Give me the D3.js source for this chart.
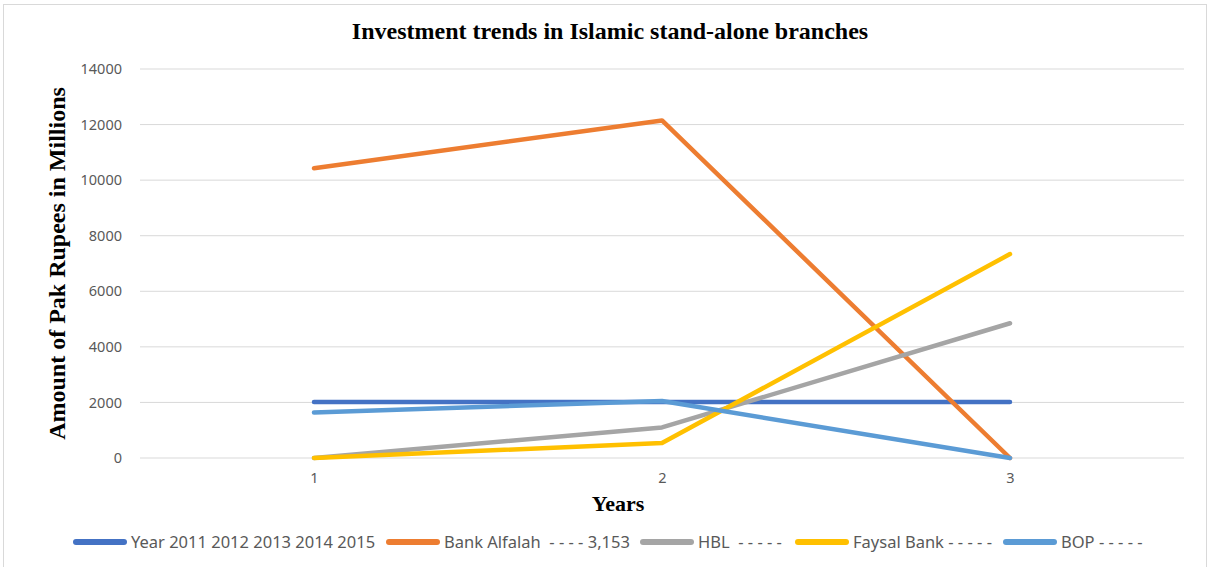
<!DOCTYPE html>
<html>
<head>
<meta charset="utf-8">
<script src="https://cdn.jsdelivr.net/npm/d3@7"></script>
<style>
  body { margin: 0; background: #fff; }
  svg { display: block; }
</style>
</head>
<body>
<svg id="chart"></svg>
<script>
// data
const categories = [1, 2, 3];
const seriesNames = ["Year 2011 2012 2013 2014 2015", "Bank Alfalah  - - - - 3,153", "HBL  - - - - -", "Faysal Bank - - - - -", "BOP - - - - -"];
const yearValues = [2011, 2012, 2013];
const alfalahValues = [10430, 12150, 0];
const hblValues = [0, 1100, 4850];
const faysalValues = [0, 540, 7340];
const bopValues = [1640, 2050, 0];
const yTicks = [0, 2000, 4000, 6000, 8000, 10000, 12000, 14000];
const colors = ["#4472C4", "#ED7D31", "#A5A5A5", "#FFC000", "#5B9BD5"];

const series = [yearValues, alfalahValues, hblValues, faysalValues, bopValues];

const width = 1210, height = 567;
const margin = { top: 69, right: 26, bottom: 109, left: 140 };

const svg = d3.select("#chart").attr("width", width).attr("height", height);

// outer chart border
svg.append("rect")
  .attr("x", 3.5).attr("y", 4.5)
  .attr("width", width - 7).attr("height", height)
  .attr("fill", "none")
  .attr("stroke", "#d9d9d9");

const xScale = d3.scalePoint()
  .domain(categories)
  .range([margin.left, width - margin.right])
  .padding(0.5);

const yScale = d3.scaleLinear()
  .domain([0, 14000])
  .range([height - margin.bottom, margin.top]);

// gridlines
svg.append("g")
  .selectAll("line")
  .data(yTicks)
  .join("line")
  .attr("x1", margin.left)
  .attr("x2", width - margin.right)
  .attr("y1", d => yScale(d))
  .attr("y2", d => yScale(d))
  .attr("stroke", "#d9d9d9")
  .attr("stroke-width", 1);

// y axis labels
const yAxis = d3.axisLeft(yScale).tickValues(yTicks).tickFormat(d3.format("d")).tickSize(0).tickPadding(18);
const gy = svg.append("g")
  .attr("transform", `translate(${margin.left},0)`)
  .call(yAxis);
gy.select(".domain").remove();
gy.selectAll("text")
  .attr("fill", "#595959")
  .style("font-family", "'Noto Sans', sans-serif")
  .style("font-size", "14.5px");

// x axis labels
const xAxis = d3.axisBottom(xScale).tickSize(0).tickPadding(15);
const gx = svg.append("g")
  .attr("transform", `translate(0,${yScale(0)})`)
  .call(xAxis);
gx.select(".domain").remove();
gx.selectAll("text")
  .attr("fill", "#595959")
  .style("font-family", "'Noto Sans', sans-serif")
  .style("font-size", "14.5px");

// lines
const lineGenerator = d3.line()
  .x((d, i) => xScale(categories[i]))
  .y(d => yScale(d));

svg.append("g")
  .selectAll("path")
  .data(series)
  .join("path")
  .attr("d", d => lineGenerator(d))
  .attr("fill", "none")
  .attr("stroke", (d, i) => colors[i])
  .attr("stroke-width", 4.5)
  .attr("stroke-linecap", "round")
  .attr("stroke-linejoin", "round");

// title
svg.append("text")
  .attr("x", 610)
  .attr("y", 39)
  .attr("text-anchor", "middle")
  .style("font-family", "'Liberation Serif', serif")
  .style("font-weight", "bold")
  .style("font-size", "24px")
  .attr("fill", "#000")
  .text("Investment trends in Islamic stand-alone branches");

// axis titles
svg.append("text")
  .attr("x", 618)
  .attr("y", 511)
  .attr("text-anchor", "middle")
  .style("font-family", "'Liberation Serif', serif")
  .style("font-weight", "bold")
  .style("font-size", "22px")
  .attr("fill", "#000")
  .text("Years");

svg.append("text")
  .attr("transform", `translate(65,${(yScale(0) + yScale(14000)) / 2}) rotate(-90)`)
  .attr("text-anchor", "middle")
  .style("font-family", "'Liberation Serif', serif")
  .style("font-weight", "bold")
  .style("font-size", "24px")
  .attr("fill", "#000")
  .text("Amount of Pak Rupees in Millions");

// legend
const legendX = [73, 386, 640, 795, 1003];
const swatchW = 54;
const legendY = 542;
const legend = svg.append("g")
  .selectAll("g")
  .data(seriesNames)
  .join("g")
  .attr("transform", (d, i) => `translate(${legendX[i]},${legendY})`);

legend.append("line")
  .attr("x1", 3)
  .attr("x2", swatchW - 3)
  .attr("stroke", (d, i) => colors[i])
  .attr("stroke-width", 6)
  .attr("stroke-linecap", "round");

legend.append("text")
  .attr("x", swatchW + 4)
  .attr("dy", "0.35em")
  .attr("fill", "#595959")
  .style("font-family", "'Noto Sans', sans-serif")
  .style("font-size", "16.5px")
  .style("white-space", "pre")
  .text(d => d);
</script>
</body>
</html>
